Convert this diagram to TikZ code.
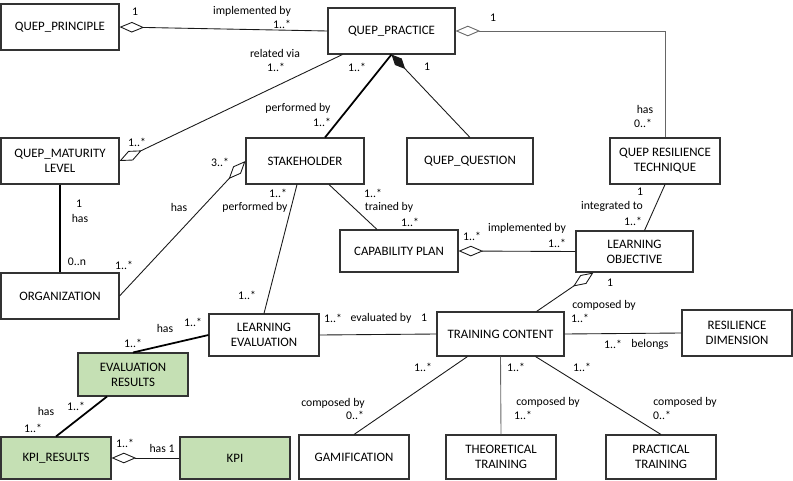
\documentclass[tikz,border=0pt]{standalone}
\usepackage{fontspec}
\setmainfont{Carlito}
\usetikzlibrary{calc,arrows.meta}
\definecolor{kpigreen}{RGB}{197,224,180}
\tikzset{
	cls/.style={draw=black!80, line width=0.9pt, fill=white, align=center, inner sep=0pt, font=\fontsize{11}{13}\selectfont},
	bx/.style 2 args={minimum width=#1*0.03cm, minimum height=#2*0.03cm},
	lbl/.style={inner sep=0pt, font=\fontsize{10}{12}\selectfont},
	assoc/.style={draw=black!90, line width=0.75pt},
	strong/.style={draw=black, line width=1.5pt},
	agg/.style={-{Diamond[open, length=21pt, width=9pt]}},
	comp/.style={-{Diamond[length=17pt, width=8pt]}}
}

\begin{document}
\begin{tikzpicture}[x=0.03cm, y=-0.03cm]
			%%%%% START %%%%%
			\useasboundingbox (0, 0) rectangle (793, 480);
			
			\node[cls, bx={118}{46}] (prin) at (60, 27) {QUEP\_PRINCIPLE};
			\node[cls, bx={127}{46}] (prac) at (391.5, 31) {QUEP\_PRACTICE};
			\node[cls, bx={118}{46}] (matur) at (60, 161) {QUEP\_MATURITY\\LEVEL};
			\node[cls, bx={118}{46}] (stake) at (305, 161) {STAKEHOLDER};
			\node[cls, bx={126}{46}] (quest) at (470, 161) {QUEP\_QUESTION};
			\node[cls, bx={110}{46}] (tech) at (665, 161) {QUEP RESILIENCE\\TECHNIQUE};
			\node[cls, bx={118}{42}] (cap) at (399, 251) {CAPABILITY PLAN};
			\node[cls, bx={117}{41}] (lobj) at (634.5, 251.5) {LEARNING\\OBJECTIVE};
			\node[cls, bx={118}{46}] (org) at (60, 296) {ORGANIZATION};
			\node[cls, bx={110}{42}] (leval) at (264, 335) {LEARNING\\EVALUATION};
			\node[cls, bx={127}{44}] (tcont) at (500.5, 334) {TRAINING CONTENT};
			\node[cls, bx={110}{46}] (rdim) at (737, 333) {RESILIENCE\\DIMENSION};
			\node[cls, bx={110}{43}, fill=kpigreen] (evres) at (133, 374.5) {EVALUATION\\RESULTS};
			\node[cls, bx={110}{42}, fill=kpigreen] (kpires) at (56, 458) {KPI\_RESULTS};
			\node[cls, bx={110}{42}, fill=kpigreen] (kpi) at (235, 458) {KPI};
			\node[cls, bx={110}{44}] (gam) at (354, 457) {GAMIFICATION};
			\node[cls, bx={110}{44}] (theo) at (501, 457) {THEORETICAL\\TRAINING};
			\node[cls, bx={110}{44}] (pract) at (661, 457) {PRACTICAL\\TRAINING};
			
			% aggregations
			\draw[assoc, agg] (prac.west) -- (prin.east);
			\draw[assoc, agg, draw=black!60] (tech.north) |- (prac.east);
			\draw[assoc, agg] ($(prac.south west)+(15,0)$) -- (matur.east);
			\draw[assoc, agg] (org.east) -- (stake.west);
			\draw[assoc, agg] (lobj.west) -- (cap.east);
			\draw[assoc, agg] ($(tcont.north)+(36,0)$) -- ($(lobj.south west)+(18,0)$);
			\draw[assoc, agg] (kpi.west) -- (kpires.east);
			
			% composition
			\draw[assoc, comp] (quest.north) -- (prac.south);
			
			% thick links
			\draw[strong] ($(stake.north)+(20,0)$) -- (prac.south);
			\draw[strong] (matur.south) -- (org.north);
			\draw[strong] (leval.west) -- (evres.north);
			\draw[strong] ($(evres.south)+(-26,0)$) -- (kpires.north);
			
			% plain associations
			\draw[assoc] ($(stake.south)+(-8,0)$) -- (leval.north);
			\draw[assoc] ($(stake.south)+(24,0)$) -- ($(cap.north)+(-22,0)$);
			\draw[assoc] (tech.south) -- ($(lobj.north)+(10,0)$);
			\draw[assoc] (leval.east) -- (tcont.west);
			\draw[assoc] (tcont.east) -- (rdim.west);
			\draw[assoc] ($(tcont.south)+(-33,0)$) -- (gam.north);
			\draw[assoc, draw=black!60] (tcont.south) -- (theo.north);
			\draw[assoc] ($(tcont.south)+(35,0)$) -- (pract.north);
			
			% multiplicities and roles
			\node[lbl] (m1) at (135, 12) {1};
			\node[lbl] (m2) at (252, 11) {implemented by};
			\node[lbl] (m3) at (282, 24) {1..*};
			\node[lbl] (m4) at (493, 18) {1};
			\node[lbl] (m5) at (645, 109) {has};
			\node[lbl] (m6) at (643, 123) {0..*};
			\node[lbl] (m7) at (275, 53) {related via};
			\node[lbl] (m8) at (276, 67) {1..*};
			\node[lbl] (m9) at (137, 142) {1..*};
			\node[lbl] (m10) at (357, 67) {1..*};
			\node[lbl] (m11) at (298, 108) {performed by};
			\node[lbl] (m12) at (322, 122) {1..*};
			\node[lbl] (m13) at (427, 67) {1};
			\node[lbl] (m14) at (79, 204) {1};
			\node[lbl] (m15) at (80, 218) {has};
			\node[lbl] (m16) at (77, 262) {0..n};
			\node[lbl] (m17) at (220, 162) {3..*};
			\node[lbl] (m18) at (179, 207) {has};
			\node[lbl] (m19) at (124, 265) {1..*};
			\node[lbl] (m20) at (278, 193) {1..*};
			\node[lbl] (m21) at (255, 207) {performed by};
			\node[lbl] (m22) at (247, 295) {1..*};
			\node[lbl] (m23) at (373, 193) {1..*};
			\node[lbl] (m24) at (389, 207) {trained by};
			\node[lbl] (m25) at (410, 222) {1..*};
			\node[lbl] (m26) at (640, 192) {1};
			\node[lbl] (m27) at (612, 206) {integrated to};
			\node[lbl] (m28) at (633, 221) {1..*};
			\node[lbl] (m29) at (472, 236) {1..*};
			\node[lbl] (m30) at (527, 228) {implemented by};
			\node[lbl] (m31) at (557, 243) {1..*};
			\node[lbl] (m32) at (610, 283) {1};
			\node[lbl] (m33) at (604, 305) {composed by};
			\node[lbl] (m34) at (580, 318) {1..*};
			\node[lbl] (m35) at (333, 318) {1..*};
			\node[lbl] (m36) at (381, 318) {evaluated by};
			\node[lbl] (m37) at (424, 318) {1};
			\node[lbl] (m38) at (613, 344) {1..*};
			\node[lbl] (m39) at (650, 344) {belongs};
			\node[lbl] (m40) at (165, 328) {has};
			\node[lbl] (m41) at (193, 322) {1..*};
			\node[lbl] (m42) at (133, 343) {1..*};
			\node[lbl] (m43) at (46, 411) {has};
			\node[lbl] (m44) at (76, 406) {1..*};
			\node[lbl] (m45) at (33, 428) {1..*};
			\node[lbl] (m46) at (125, 443) {1..*};
			\node[lbl] (m47) at (162, 448) {has 1};
			\node[lbl] (m48) at (423, 367) {1..*};
			\node[lbl] (m49) at (333, 403) {composed by};
			\node[lbl] (m50) at (355, 415) {0..*};
			\node[lbl] (m51) at (516, 367) {1..*};
			\node[lbl] (m52) at (548, 402) {composed by};
			\node[lbl] (m53) at (523, 415) {1..*};
			\node[lbl] (m54) at (582, 367) {1..*};
			\node[lbl] (m55) at (685, 402) {composed by};
			\node[lbl] (m56) at (662, 415) {0..*};
			
			%%%%% END %%%%%
\end{tikzpicture}
\end{document}
